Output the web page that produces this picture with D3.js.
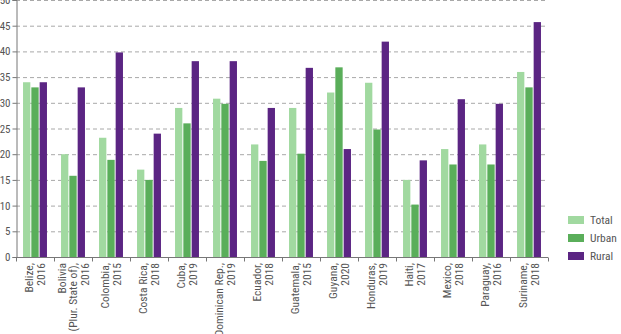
<!DOCTYPE html>
<html>
<head>
<meta charset="utf-8">
<script src="https://cdn.jsdelivr.net/npm/d3@7"></script>
<style>
body { margin: 0; background: #fff; }
svg text { font-family: "Liberation Sans Narrow", "Roboto Condensed", "DejaVu Sans Condensed", sans-serif; fill: #555; }
</style>
</head>
<body>
<script>
// country labels (lines), one entry per group
var countries = [
	["Belize,", "2016"],
	["Bolivia", "(Plur. State of),", "2016"],
	["Colombia,", "2015"],
	["Costa Rica,", "2018"],
	["Cuba,", "2019"],
	["Dominican Rep.,", "2019"],
	["Ecuador,", "2018"],
	["Guatemala,", "2015"],
	["Guyana,", "2020"],
	["Honduras,", "2019"],
	["Haiti,", "2017"],
	["Mexico,", "2018"],
	["Paraguay,", "2016"],
	["Suriname,", "2018"]
];
var seriesNames = ["Total", "Urban", "Rural"];
var total = [34, 20, 23.2, 17, 29, 30.8, 21.9, 29, 32, 33.9, 15, 21, 21.9, 36];
var urban = [33, 15.8, 18.9, 15, 26, 29.8, 18.7, 20.1, 36.9, 24.8, 10.2, 18, 18, 33];
var rural = [34, 33, 39.8, 24, 38.1, 38.1, 29, 36.8, 21, 41.9, 18.8, 30.7, 29.8, 45.7];
var yTicks = [0, 5, 10, 15, 20, 25, 30, 35, 40, 45, 50];
var colors = ["#a1d9a0", "#5aae5a", "#5b2583"];

var W = 621, H = 334;
var plotL = 16, plotR = 548, plotT = 0, plotB = 257;

var svg = d3.select("body").append("svg")
	.attr("width", W)
	.attr("height", H);

var x0 = d3.scaleBand().domain(d3.range(countries.length)).range([plotL, plotR]).paddingInner(0.37).paddingOuter(0.185);
var x1 = d3.scaleBand().domain(seriesNames).range([0, x0.bandwidth()]).paddingInner(0.12);
var y = d3.scaleLinear().domain([0, 50]).range([plotB, plotT]);

// grid
svg.append("g").selectAll("line")
	.data(yTicks.filter(function (d) { return d > 0; }))
	.enter().append("line")
	.attr("x1", plotL).attr("x2", plotR)
	.attr("y1", function (d) { return y(d) + 0.5; })
	.attr("y2", function (d) { return y(d) + 0.5; })
	.attr("stroke", "#a8a8a8")
	.attr("stroke-dasharray", "4,3");

// bars
var table = countries.map(function (c, i) {
	return [total[i], urban[i], rural[i]];
});
var groups = svg.append("g").selectAll("g")
	.data(table)
	.enter().append("g")
	.attr("transform", function (d, i) { return "translate(" + x0(i) + ",0)"; });

groups.selectAll("rect")
	.data(function (d) { return d.map(function (v, k) { return {k: k, v: v}; }); })
	.enter().append("rect")
	.attr("x", function (d) { return x1(seriesNames[d.k]); })
	.attr("y", function (d) { return y(d.v); })
	.attr("width", x1.bandwidth())
	.attr("height", function (d) { return plotB - y(d.v); })
	.style("fill", function (d) { return colors[d.k]; });

// y axis
var yAxis = svg.append("g")
	.attr("transform", "translate(" + (plotL + 0.5) + ",0)")
	.call(d3.axisLeft(y).tickValues(yTicks).tickSize(4).tickPadding(2));
yAxis.select(".domain").attr("stroke", "#777");
yAxis.selectAll(".tick line").attr("stroke", "#777");
yAxis.selectAll("text").style("font-size", "11px").attr("fill", "#555");

// x axis with ticks on band edges
var xAxis = svg.append("g").attr("transform", "translate(0," + (plotB + 0.5) + ")");
xAxis.append("line").attr("x1", plotL).attr("x2", plotR).attr("stroke", "#777");
xAxis.selectAll(".xt")
	.data(d3.range(countries.length + 1))
	.enter().append("line")
	.attr("x1", function (d) { return Math.round(plotL + d * (plotR - plotL) / countries.length) + 0.5; })
	.attr("x2", function (d) { return Math.round(plotL + d * (plotR - plotL) / countries.length) + 0.5; })
	.attr("y1", 0).attr("y2", 4)
	.attr("stroke", "#777");

// x labels rotated
countries.forEach(function (lines, i) {
	var cx = x0(i) + x0.bandwidth() / 2;
	var n = lines.length;
	lines.forEach(function (t, j) {
		var lx = cx + (j - (n - 1) / 2) * 11.5 + 4;
		svg.append("text")
			.attr("transform", "translate(" + lx + "," + (plotB + 6) + ") rotate(-90)")
			.attr("text-anchor", "end")
			.style("font-size", "11.5px")
			.text(t);
	});
});

// legend
var legend = svg.append("g").selectAll("g")
	.data(seriesNames)
	.enter().append("g")
	.attr("transform", function (d, i) { return "translate(568," + (216 + i * 18) + ")"; });
legend.append("rect").attr("width", 16).attr("height", 8)
	.style("fill", function (d, i) { return colors[i]; });
legend.append("text").attr("x", 22).attr("y", 8)
	.style("font-size", "11.5px")
	.text(function (d) { return d; });
</script>
</body>
</html>
